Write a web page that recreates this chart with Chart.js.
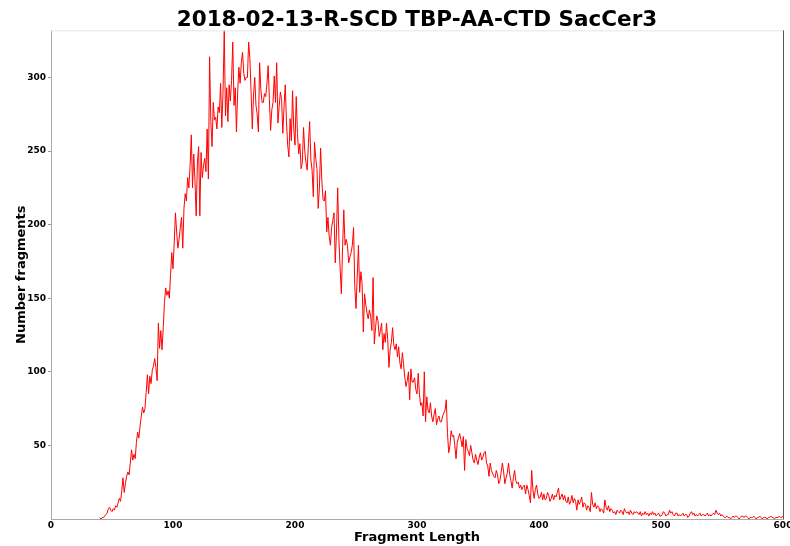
<!DOCTYPE html>
<html>
<head>
<meta charset="utf-8">
<script src="https://cdn.jsdelivr.net/npm/chart.js@4.4.1/dist/chart.umd.min.js"></script>
<style>
  html, body { margin: 0; padding: 0; background: #fff; }
</style>
</head>
<body>
<canvas id="fragChart" width="790" height="546"></canvas>
<script>
const chartTitle = '2018-02-13-R-SCD TBP-AA-CTD SacCer3';
const xTitle = 'Fragment Length';
const yTitle = 'Number fragments';
const xTicks = [0, 100, 200, 300, 400, 500, 600];
const yTicks = [50, 100, 150, 200, 250, 300];

// fragment lengths start at 40, one count per length up to 600
const firstLength = 40;
const counts = [
    1, 0, 1, 1, 2, 3, 4, 7, 8, 6,                         // 40
    5, 7, 6, 9, 8, 11, 14, 12, 19, 28,                    // 50
    18, 24, 29, 32, 30, 38, 47, 40, 44, 41,               // 60
    52, 59, 55, 63, 70, 76, 72, 75, 86, 98,               // 70
    85, 97, 92, 101, 104, 109, 103, 94, 133, 116,         // 80
    128, 115, 130, 147, 157, 152, 155, 150, 166, 181,     // 90
    170, 188, 208, 195, 184, 190, 198, 205, 184, 211,     // 100
    221, 216, 232, 225, 240, 261, 225, 248, 230, 206,     // 110
    242, 253, 206, 249, 232, 240, 245, 236, 265, 231,     // 120
    314, 270, 253, 283, 271, 273, 265, 280, 276, 296,     // 130
    266, 290, 332, 274, 293, 270, 295, 284, 298, 324,     // 140
    281, 293, 263, 290, 307, 296, 310, 317, 303, 298,     // 150
    300, 300, 324, 313, 290, 265, 288, 300, 281, 275,     // 160
    263, 310, 292, 283, 283, 289, 287, 296, 308, 285,     // 170
    264, 278, 283, 301, 283, 310, 269, 280, 290, 285,     // 180
    262, 280, 295, 270, 254, 246, 272, 257, 291, 265,     // 190
    254, 287, 262, 248, 255, 238, 242, 266, 250, 242,     // 200
    237, 255, 270, 244, 237, 219, 256, 245, 238, 211,     // 210
    225, 252, 230, 217, 216, 223, 195, 205, 192, 186,     // 220
    198, 203, 208, 174, 195, 225, 190, 170, 153, 185,     // 230
    210, 186, 190, 186, 174, 178, 181, 186, 198, 158,     // 240
    143, 165, 186, 154, 168, 160, 127, 153, 146, 140,     // 250
    136, 142, 138, 128, 164, 119, 130, 138, 135, 124,     // 260
    128, 133, 115, 126, 120, 133, 122, 103, 115, 120,     // 270
    130, 118, 115, 119, 110, 117, 106, 102, 113, 105,     // 280
    96, 90, 94, 100, 81, 102, 93, 93, 96, 88,             // 290
    85, 99, 85, 77, 79, 70, 100, 66, 83, 74,              // 300
    72, 79, 70, 66, 71, 75, 64, 68, 70, 66,               // 310
    66, 70, 72, 74, 81, 58, 45, 50, 60, 56,               // 320
    57, 50, 41, 52, 55, 58, 54, 49, 56, 33,               // 330
    54, 48, 46, 43, 50, 45, 40, 38, 44, 40,               // 340
    37, 42, 45, 40, 42, 45, 46, 38, 36, 29,               // 350
    38, 33, 31, 29, 28, 33, 30, 24, 26, 32,               // 360
    38, 32, 24, 28, 31, 38, 30, 26, 21, 28,               // 370
    33, 26, 24, 25, 21, 23, 20, 22, 23, 17,               // 380
    23, 20, 16, 11, 33, 20, 14, 20, 23, 17,               // 390
    14, 15, 18, 13, 17, 13, 14, 18, 16, 12,               // 400
    14, 17, 13, 16, 15, 18, 21, 13, 15, 17,               // 410
    13, 16, 12, 11, 15, 10, 12, 16, 11, 14,               // 420
    12, 6, 13, 10, 12, 15, 8, 11, 10, 6,                  // 430
    9, 8, 5, 18, 10, 8, 11, 7, 9, 8,                      // 440
    5, 7, 6, 4, 13, 8, 6, 9, 5, 7,                        // 450
    6, 4, 5, 3, 6, 5, 4, 6, 5, 3,                         // 460
    7, 5, 4, 5, 3, 6, 4, 3, 5, 4,                         // 470
    5, 4, 3, 5, 2, 4, 3, 5, 3, 4,                         // 480
    2, 4, 3, 5, 3, 4, 2, 3, 4, 2,                         // 490
    2, 3, 5, 4, 2, 3, 3, 6, 4, 5,                         // 500
    3, 2, 4, 4, 2, 3, 2, 3, 4, 2,                         // 510
    3, 3, 1, 2, 4, 5, 3, 4, 2, 3,                         // 520
    2, 3, 4, 2, 3, 3, 2, 3, 4, 2,                         // 530
    3, 2, 3, 4, 3, 6, 4, 3, 4, 2,                         // 540
    3, 2, 1, 1, 2, 1, 1, 0, 1, 2,                         // 550
    1, 2, 2, 1, 0, 1, 2, 2, 1, 2,                         // 560
    2, 1, 0, 1, 1, 1, 2, 1, 0, 1,                         // 570
    1, 2, 1, 0, 1, 1, 1, 0, 1, 1,                         // 580
    2, 1, 1, 0, 1, 1, 1, 2, 1, 1,                         // 590
    2                                                     // 600
];

const points = counts.map((c, i) => ({ x: firstLength + i, y: c }));

const fontFamily = '"DejaVu Sans", sans-serif';

// right and top edges of the plot frame
const frameEdges = {
    id: 'frameEdges',
    afterDraw(chart) {
        const { ctx, chartArea: a } = chart;
        ctx.save();
        ctx.lineWidth = 1;
        ctx.strokeStyle = '#e6e6e6';
        ctx.beginPath();
        ctx.moveTo(a.left, a.top + 0.5);
        ctx.lineTo(a.right, a.top + 0.5);
        ctx.stroke();
        ctx.strokeStyle = '#555555';
        ctx.beginPath();
        ctx.moveTo(a.right + 0.5, a.top);
        ctx.lineTo(a.right + 0.5, a.bottom);
        ctx.stroke();
        ctx.restore();
    }
};

const ctx = document.getElementById('fragChart').getContext('2d');

new Chart(ctx, {
    type: 'line',
    data: {
        datasets: [{
            data: points,
            borderColor: '#ff0000',
            borderWidth: 1,
            pointRadius: 0,
            tension: 0,
            fill: false
        }]
    },
    options: {
        responsive: false,
        animation: false,
        devicePixelRatio: 1,
        layout: { padding: { left: 0, right: 7, top: 0, bottom: 0 } },
        plugins: {
            legend: { display: false },
            tooltip: { enabled: false },
            title: {
                display: true,
                text: chartTitle,
                fullSize: false,
                color: '#000',
                font: { family: fontFamily, size: 21.5, weight: 'bold', lineHeight: 0.9 },
                padding: { top: 11, bottom: 0 }
            }
        },
        scales: {
            x: {
                type: 'linear',
                min: 0,
                max: 600,
                afterBuildTicks: s => { s.ticks = xTicks.map(v => ({ value: v })); },
                afterFit: s => { s.height = 27; s.paddingLeft = 0; s.paddingRight = 0; },
                grid: { display: false, drawTicks: false },
                border: { display: true, color: '#aaaaaa', width: 1 },
                ticks: {
                    color: '#000',
                    padding: 1,
                    maxRotation: 0,
                    font: { family: fontFamily, size: 9, weight: 'bold' }
                },
                title: {
                    display: true,
                    text: xTitle,
                    color: '#000',
                    font: { family: fontFamily, size: 13, weight: 'bold' },
                    padding: { top: 0, bottom: 1 }
                }
            },
            y: {
                min: 0,
                max: 332,
                afterBuildTicks: s => { s.ticks = yTicks.map(v => ({ value: v })); },
                afterFit: s => { s.width = 51; s.paddingTop = 0; s.paddingBottom = 0; },
                grid: {
                    drawOnChartArea: false,
                    drawTicks: true,
                    tickLength: 3,
                    color: '#999999'
                },
                border: { display: true, color: '#aaaaaa', width: 1 },
                ticks: {
                    color: '#000',
                    padding: 2,
                    font: { family: fontFamily, size: 9, weight: 'bold' }
                },
                title: {
                    display: true,
                    text: yTitle,
                    color: '#000',
                    font: { family: fontFamily, size: 13, weight: 'bold' },
                    padding: { top: 14, bottom: 0 }
                }
            }
        }
    },
    plugins: [frameEdges]
});
</script>
</body>
</html>
